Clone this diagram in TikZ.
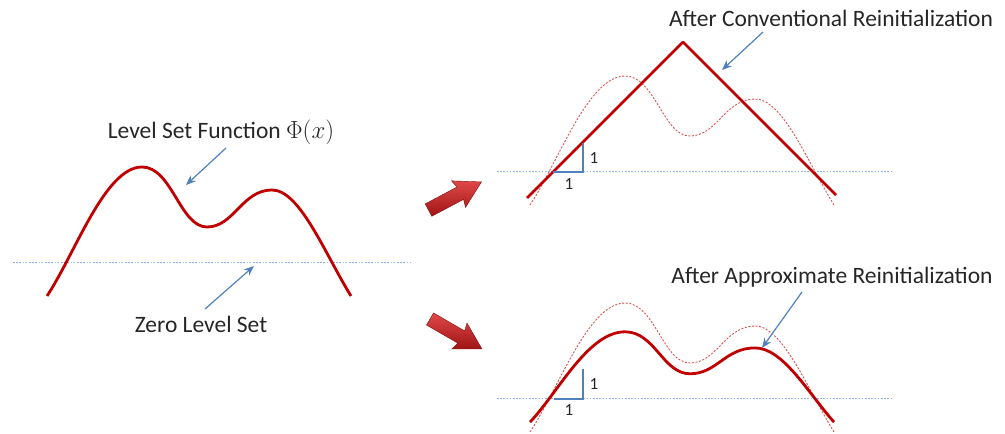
\documentclass[tikz,border=0pt]{standalone}
\usepackage{fontspec}
\setmainfont{Carlito}
\usetikzlibrary{arrows.meta}
\definecolor{curvered}{HTML}{C00000}
\definecolor{dashred}{HTML}{E05050}
\definecolor{zeroblue}{HTML}{8DB3E2}
\definecolor{callblue}{HTML}{4F81BD}
\definecolor{txt}{HTML}{262626}
\definecolor{arrlight}{HTML}{E04848}
\definecolor{arrdark}{HTML}{A01414}
\tikzset{
  solidcurve/.style={draw=curvered, line width=2.8pt, line join=round},
  dashcurve/.style={draw=dashred, line width=0.9pt, dash pattern=on 2pt off 1.6pt},
  zeroline/.style={draw=zeroblue, line width=1pt, dash pattern=on 1.6pt off 1.6pt},
  callout/.style={draw=callblue, line width=1.2pt, -{Stealth[length=10pt,width=8pt]}},
  slopebox/.style={draw=callblue, line width=1.4pt},
  label/.style={font=\fontsize{23.5}{27}\selectfont, text=txt, inner sep=0pt},
  unitlabel/.style={font=\fontsize{17}{20}\selectfont, text=txt, inner sep=0pt},
  phicurve/.pic={\path[pic actions] (47,-33) .. controls (75,9) and (105,96) .. (142,96)
      .. controls (172,96) and (180,36) .. (207,36)
      .. controls (234,36) and (242,73) .. (272,73)
      .. controls (300,73) and (325,9) .. (351,-33);},
  blockarrow/.pic={\shade[top color=arrlight, bottom color=arrdark, draw=arrdark!80!black, line width=0.4pt]
      (-30,-7) -- (6,-7) -- (4,-15) -- (30,0) -- (4,15) -- (6,7) -- (-30,7) -- cycle;}
}
\begin{document}
\begin{tikzpicture}[x=1pt,y=1pt]
\useasboundingbox (0,0) rectangle (1005,434);

% ---------- left panel ----------
\coordinate (zl1) at (13,171); \coordinate (zl2) at (410,171);
\draw[zeroline] (zl1) -- (zl2);
\pic[solidcurve] at (0,171) {phicurve};
\node[label] (lvl) at (221,302) {Level Set Function $\Phi(x)$};
\node[label] (zero) at (201,110) {Zero Level Set};
\coordinate (lvlA) at (226,286); \coordinate (lvlB) at (186,249);
\draw[callout] (lvlA) -- (lvlB);
\coordinate (zeroA) at (205,125); \coordinate (zeroB) at (254,168);
\draw[callout] (zeroA) -- (zeroB);

% ---------- block arrows ----------
\pic[rotate=28] at (455,238) {blockarrow};
\pic[rotate=-30] at (456,100) {blockarrow};

% ---------- top right panel ----------
\coordinate (zt1) at (497,262); \coordinate (zt2) at (893,262);
\draw[zeroline] (zt1) -- (zt2);
\pic[dashcurve] at (483,262) {phicurve};
\coordinate (tL) at (527,236); \coordinate (tP) at (683,392); \coordinate (tR) at (836,239);
\draw[solidcurve] (tL) -- (tP) -- (tR);
\coordinate (s1a) at (553,262); \coordinate (s1b) at (583,262); \coordinate (s1c) at (583,291);
\draw[slopebox] (s1a) -- (s1b) -- (s1c);
\node[unitlabel] (u1v) at (594,276) {1};
\node[unitlabel] (u1h) at (569,250) {1};
\node[label] (conv) at (831,416) {After Conventional Reinitialization};
\coordinate (convA) at (763,402); \coordinate (convB) at (722,364);
\draw[callout] (convA) -- (convB);

% ---------- bottom right panel ----------
\coordinate (zb1) at (497,35); \coordinate (zb2) at (893,35);
\draw[zeroline] (zb1) -- (zb2);
\pic[dashcurve] at (483,35) {phicurve};
\pic[solidcurve, yscale=0.7] at (483,35) {phicurve};
\coordinate (s2a) at (554,35); \coordinate (s2b) at (583,35); \coordinate (s2c) at (583,65);
\draw[slopebox] (s2a) -- (s2b) -- (s2c);
\node[unitlabel] (u2v) at (594,50) {1};
\node[unitlabel] (u2h) at (569,24) {1};
\node[label] (approx) at (832,157) {After Approximate Reinitialization};
\coordinate (apA) at (802,142); \coordinate (apB) at (762,86);
\draw[callout] (apA) -- (apB);
\end{tikzpicture}
\end{document}
